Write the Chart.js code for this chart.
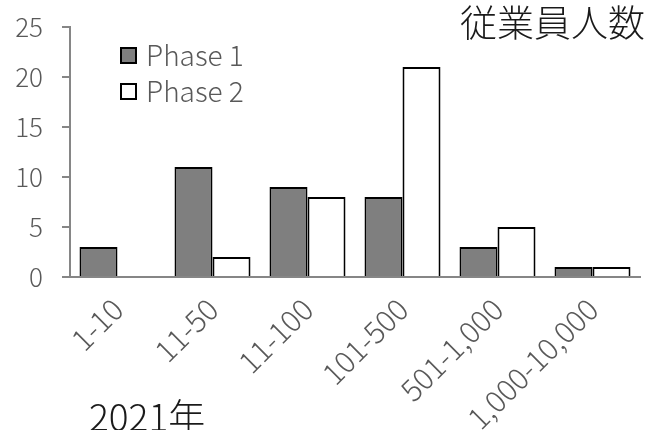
<!DOCTYPE html>
<html>
<head>
<meta charset="utf-8">
<script src="https://cdn.jsdelivr.net/npm/chart.js@4.4.1/dist/chart.umd.min.js"></script>
<style>
  html, body { margin: 0; padding: 0; background: #fff; }
  #wrap { width: 650px; height: 430px; position: relative; }
</style>
</head>
<body>
<div id="wrap"><canvas id="c" width="650" height="430"></canvas></div>
<script>
// Employee-count bands and survey responses per phase
const categories = ['1-10', '11-50', '11-100', '101-500', '501-1,000', '1,000-10,000'];
const phase1 = [3, 11, 9, 8, 3, 1];
const phase2 = [0, 2, 8, 21, 5, 1];
const yTicks = [0, 5, 10, 15, 20, 25];
const seriesNames = ['Phase 1', 'Phase 2'];
const titleText = '従業員人数';
const yearText = '2021年';

const FONT = '"Noto Sans CJK JP", "Noto Sans", sans-serif';
const AXIS = '#868686';
const LABEL = '#595959';

// Title, year note and an in-plot legend drawn on the canvas
const decorations = {
  id: 'decorations',
  afterDraw(chart) {
    const ctx = chart.ctx;
    ctx.save();
    ctx.fillStyle = '#1a1a1a';
    ctx.font = '300 37px ' + FONT;
    ctx.textAlign = 'right';
    ctx.textBaseline = 'alphabetic';
    ctx.fillText(titleText, 645, 37);

    ctx.textAlign = 'left';
    ctx.font = '300 37px ' + FONT;
    ctx.fillText(yearText, 89, 431);

    // legend
    const x0 = chart.chartArea.left + 51;
    chart.data.datasets.forEach((ds, i) => {
      const y = 48 + i * 36;
      ctx.fillStyle = ds.backgroundColor;
      ctx.strokeStyle = ds.borderColor;
      ctx.lineWidth = 2;
      ctx.fillRect(x0, y, 15, 15);
      ctx.strokeRect(x0, y, 15, 15);
      ctx.fillStyle = LABEL;
      ctx.font = '300 28px ' + FONT;
      ctx.textBaseline = 'middle';
      ctx.fillText(ds.label, x0 + 25, y + 7);
    });
    ctx.restore();
  }
};

new Chart(document.getElementById('c'), {
  type: 'bar',
  data: {
    labels: categories,
    datasets: [
      { label: seriesNames[0], data: phase1, backgroundColor: '#7f7f7f', borderColor: '#000000', borderWidth: 2 },
      { label: seriesNames[1], data: phase2, backgroundColor: '#ffffff', borderColor: '#000000', borderWidth: 2 }
    ]
  },
  options: {
    responsive: false,
    animation: false,
    layout: { padding: { top: 27, right: 10, left: 0, bottom: 0 } },
    datasets: { bar: { categoryPercentage: 0.8, barPercentage: 1.0 } },
    plugins: { legend: { display: false }, tooltip: { enabled: false } },
    scales: {
      x: {
        grid: { display: false },
        border: { display: true, color: AXIS, width: 2 },
        ticks: {
          autoSkip: false, minRotation: 45, maxRotation: 45, padding: 6,
          color: LABEL, font: { family: FONT, size: 30, weight: 300 }
        },
        afterFit(scale) {
          scale.height = 153;
          scale.paddingLeft = 0;
          scale.paddingRight = 0;
        }
      },
      y: {
        min: 0, max: 25,
        afterBuildTicks(scale) { scale.ticks = yTicks.map(v => ({ value: v })); },
        grid: { drawOnChartArea: false, drawTicks: true, tickLength: 8, color: AXIS, lineWidth: 2 },
        border: { display: true, color: AXIS, width: 2 },
        ticks: { padding: 19, color: LABEL, font: { family: FONT, size: 26, weight: 300 } },
        afterFit(scale) {
          scale.width = 70;
          scale.paddingTop = 0;
          scale.paddingBottom = 0;
        }
      }
    }
  },
  plugins: [decorations]
});
</script>
</body>
</html>
